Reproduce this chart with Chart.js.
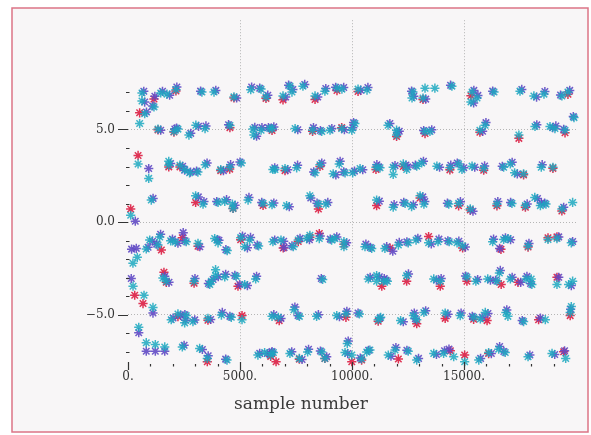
<!DOCTYPE html>
<html lang="en">
<head>
<meta charset="UTF-8">
<title>sample number</title>
<script src="https://cdn.jsdelivr.net/npm/chart.js"></script>
<style>
  body { margin: 0; background: #fff; }
</style>
</head>
<body>
<canvas id="scatterChart" width="591" height="435"></canvas>
<script>
// x ticks shown on the axis, y ticks shown on the axis
const xTickLabels = [0, 5000, 10000, 15000];
const yTickLabels = [5, 0, -5];

// three equalizer outputs, [sample, value]
const cyanPts = [
  // +7
  [625,6.97],[625,6.54],[1160,6.22],[1460,6.97],[1740,6.91],[2140,7.15],[3300,7.02],[3840,7.02],[4730,6.76],
  [5480,7.15],[5940,7.18],[6160,6.76],[6920,6.81],[7320,7.02],[7230,7.34],[7810,7.34],[8350,6.81],[8790,7.07],
  [9330,7.23],[9550,7.18],[10270,7.18],[10670,7.13],[12720,7.02],[12680,6.70],[13170,6.70],[13260,7.23],
  [13700,7.23],[14460,7.34],[15360,7.02],[15310,6.49],[15580,6.70],[16340,7.02],[17500,7.07],[18120,6.81],
  [18570,6.91],[19370,6.81],[19640,7.02],
  // +5
  [520,5.32],[745,5.85],[1340,5.02],[2050,4.89],[2230,5.02],[2720,4.70],[3030,5.23],[3440,5.05],[4550,5.21],
  [5580,5.02],[5620,4.70],[5940,4.96],[6330,5.05],[6430,5.05],[7460,5.05],[8240,4.96],[8650,4.89],[9020,4.96],
  [9540,5.05],[9990,4.96],[10130,5.32],[11610,5.23],[11990,4.96],[11990,4.70],[13260,4.89],[13480,4.89],
  [15710,4.96],[15940,5.23],[17450,4.70],[18170,5.16],[18840,5.16],[19060,5.05],[19510,4.96],[19910,5.64],
  // +3
  [450,3.14],[925,2.36],[1820,3.28],[1820,3.07],[2320,3.07],[2530,2.84],[2750,2.66],[3120,2.70],[3450,3.10],
  [4140,2.84],[4540,2.96],[5060,3.19],[6470,2.84],[6560,2.84],[7010,2.89],[7530,2.93],[8350,2.66],[8570,3.10],
  [9160,2.61],[9430,3.14],[9690,2.66],[10030,2.66],[10360,2.89],[11070,2.96],[11250,2.93],[11840,2.96],
  [11840,2.57],[12290,3.14],[12440,2.84],[12890,3.02],[13110,3.19],[13790,3.02],[14370,2.93],[14760,3.14],
  [14910,2.84],[15360,3.02],[15880,2.89],[16770,2.96],[17070,3.14],[17260,2.66],[17660,2.61],[18450,2.96],
  [18970,2.96],
  // +1
  [120,0.37],[1040,1.19],[3020,1.42],[3350,0.97],[4020,1.06],[4320,1.12],[4660,0.97],[4690,0.74],[5360,1.19],
  [6030,1.01],[6430,0.94],[7080,0.89],[8120,1.42],[8500,0.97],[8840,0.97],[11100,1.19],[11840,0.80],
  [12370,1.01],[12660,0.84],[13040,1.42],[13210,0.97],[14320,0.97],[14760,1.01],[15280,0.72],[16470,0.97],
  [17140,1.01],[17740,0.89],[18160,1.33],[18410,0.89],[18660,0.97],[19370,0.71],[19850,1.06],
  // -1
  [220,-2.22],[415,-1.90],[815,-1.45],[970,-0.97],[1415,-0.80],[1340,-1.24],[1905,-1.01],[2110,-1.08],
  [2600,-1.06],[3125,-1.15],[3870,-0.89],[4020,-1.12],[4430,-1.54],[5030,-0.84],[5210,-1.33],[5430,-0.97],
  [5830,-1.29],[6470,-1.06],[6830,-0.97],[7380,-1.33],[7600,-0.97],[7980,-0.89],[8120,-0.71],[8540,-0.89],
  [9090,-0.97],[9240,-0.89],[9640,-1.06],[9640,-1.33],[10580,-1.33],[10880,-1.42],[11470,-1.42],[12070,-1.24],
  [12510,-1.12],[12860,-0.97],[13420,-1.12],[13840,-1.06],[14340,-1.06],[14690,-1.12],[14940,-1.29],
  [16280,-1.06],[16770,-0.94],[16960,-0.89],[17860,-1.29],[18750,-0.94],[19150,-0.89],[19790,-1.12],
  // -3
  [225,-3.46],[715,-3.95],[1115,-4.61],[1560,-3.02],[1710,-3.19],[2950,-3.19],[3650,-3.37],[3720,-3.19],
  [3910,-2.57],[3910,-2.89],[4320,-2.96],[4830,-2.93],[5210,-3.37],[5700,-3.07],[8690,-3.10],[10730,-3.07],
  [11100,-2.89],[11100,-3.19],[11400,-3.19],[11580,-3.19],[12440,-2.89],[13650,-3.07],[13940,-3.19],
  [15130,-2.96],[15530,-3.19],[16060,-3.07],[16580,-2.75],[16470,-3.19],[17070,-3.07],[17770,-3.07],
  [18000,-3.07],[18030,-3.37],[19150,-3.37],[19670,-3.37],[19850,-3.19],
  // -5
  [480,-5.68],[1930,-5.27],[2230,-4.96],[2530,-5.44],[2600,-5.05],[2900,-5.37],[3570,-5.20],[4170,-5.02],
  [4610,-5.14],[5090,-5.27],[6430,-5.09],[6710,-5.14],[7410,-4.73],[7650,-5.09],[8420,-5.09],[9320,-5.05],
  [9730,-4.96],[10330,-4.96],[11170,-5.27],[11280,-5.14],[12170,-5.32],[12740,-5.05],[12890,-5.27],
  [13210,-4.88],[14160,-4.91],[14830,-5.05],[15430,-5.14],[15730,-5.23],[15950,-4.88],[16870,-4.88],
  [16960,-5.09],[17660,-5.37],[18630,-5.27],[19740,-4.88],[19790,-4.56],
  // -7
  [815,-6.51],[1220,-6.61],[1640,-6.74],[2425,-6.74],[3200,-6.82],[3540,-7.36],[4420,-7.45],[5800,-7.18],
  [6100,-7.04],[6370,-7.18],[6490,-7.04],[7230,-7.09],[7650,-7.36],[8020,-7.01],[8650,-7.01],[8790,-7.36],
  [9690,-7.04],[9790,-6.56],[9990,-7.18],[10430,-7.39],[10660,-7.01],[10800,-6.91],[11620,-7.18],
  [11920,-6.91],[12510,-6.97],[12890,-7.45],[13650,-7.09],[14090,-7.09],[14540,-7.27],[15030,-7.54],
  [15660,-7.45],[16100,-7.04],[16550,-6.86],[16840,-7.04],[17860,-7.27],[18930,-7.09],[19540,-7.36]
];

const purplePts = [
  // +7
  [705,7.06],[745,6.48],[1200,6.79],[1100,6.27],[1540,7.06],[1860,6.85],[2180,7.29],[3240,7.07],[3920,7.11],
  [4850,6.70],[5520,7.29],[5880,7.23],[6240,6.85],[7040,6.75],[7360,7.16],[7170,7.39],[7890,7.43],[8470,6.75],
  [8830,7.21],[9270,7.28],[9630,7.27],[10390,7.12],[10710,7.27],[12660,7.07],[12760,6.79],[13290,6.64],
  [14400,7.39],[15440,7.11],[15430,6.43],[15620,6.84],[16280,7.07],[17580,7.16],[18240,6.75],[18610,7.05],
  [19310,6.86],[19720,7.11],
  // +5
  [825,5.94],[1460,4.96],[2090,5.03],[2170,5.07],[2800,4.79],[3150,5.17],[3480,5.19],[4490,5.26],[5660,5.11],
  [5740,4.64],[5980,5.10],[6270,5.10],[6510,5.14],[7580,4.99],[8280,5.10],[8590,4.94],[9100,5.05],[9660,4.99],
  [10030,5.10],[10070,5.37],[11690,5.32],[12110,4.90],[12030,4.84],[13200,4.94],[13560,4.98],[15830,4.90],
  [15980,5.37],[18250,5.25],[18960,5.10],[19100,5.19],[19450,5.01],[19880,5.70],
  // +3
  [925,2.89],[1900,3.16],[2440,3.01],[2530,2.80],[2790,2.70],[3060,2.75],[3530,3.19],[4260,2.78],[4580,3.10],
  [5000,3.24],[6550,2.93],[7130,2.83],[7570,3.07],[8290,2.71],[8650,3.19],[9280,2.55],[9470,3.28],[9630,2.71],
  [10110,2.75],[10480,2.83],[11110,3.10],[11190,2.98],[11920,3.05],[12410,3.08],[12480,2.98],[12830,3.07],
  [13190,3.28],[13910,2.96],[14410,3.07],[14700,3.19],[14990,2.93],[15480,2.96],[15920,3.03],[16710,3.01],
  [17150,3.23],[17380,2.60],[18490,3.10],
  // +1
  [325,0.05],[1120,1.28],[3140,1.36],[3390,1.11],[3960,1.11],[4400,1.21],[4780,0.91],[5400,1.33],[5970,1.06],
  [6510,1.03],[7200,0.83],[8160,1.30],[8440,1.02],[8920,1.06],[11220,1.13],[11880,0.94],[12310,1.06],
  [12740,0.93],[13160,1.36],[13250,1.11],[14260,1.02],[14840,1.10],[15400,0.59],[16510,1.11],[17080,1.06],
  [17820,0.98],[18280,1.27],[18450,1.03],[18600,1.02],[19450,0.80],
  // -1
  [160,-1.46],[370,-1.42],[895,-1.36],[1090,-1.03],[1455,-0.66],[1280,-1.19],[1985,-0.92],[2230,-1.14],
  [2465,-0.57],[2540,-1.01],[3205,-1.33],[3990,-0.95],[4060,-0.98],[4370,-1.49],[5110,-0.75],[5330,-1.39],
  [5470,-0.83],[5770,-1.24],[6550,-0.97],[6950,-1.03],[6970,-1.37],[7320,-1.28],[7680,-0.88],[8100,-0.95],
  [8580,-0.75],[9030,-0.92],[9320,-0.80],[9760,-1.12],[10620,-1.19],[10820,-1.37],[11550,-1.33],[11820,-1.57],
  [12110,-1.10],[12450,-1.07],[12940,-0.88],[13540,-1.18],[13880,-0.92],[14280,-1.01],[14770,-1.03],
  [15060,-1.35],[16320,-0.92],[16590,-1.42],[16850,-0.85],[17080,-0.95],[17900,-1.15],[19230,-0.80],
  [19850,-1.05],
  // -3
  [145,-3.05],[1115,-4.91],[1640,-2.93],[1830,-3.25],[2990,-3.05],[3590,-3.32],[3800,-3.10],[4030,-2.95],
  [4360,-2.82],[4770,-2.88],[4990,-3.37],[5330,-3.43],[5740,-2.93],[8630,-3.05],[10810,-2.98],[11220,-2.95],
  [11440,-3.05],[11520,-3.14],[12520,-2.80],[13770,-3.13],[13980,-3.05],[15070,-2.91],[15610,-3.10],
  [16180,-3.13],[16620,-2.61],[16410,-3.14],[17150,-2.98],[17530,-3.25],[17810,-2.93],[17970,-3.32],
  [19230,-2.98],[19790,-3.43],
  // -5
  [480,-5.97],[2010,-5.18],[2350,-5.02],[2570,-5.30],[2540,-5.00],[2980,-5.28],[3690,-5.26],[4210,-4.88],
  [4550,-5.09],[6510,-5.00],[6830,-5.20],[7450,-4.59],[7590,-5.04],[8500,-5.00],[9440,-5.11],[9770,-4.82],
  [10270,-4.91],[11250,-5.18],[12290,-5.38],[12780,-4.91],[12830,-5.22],[13290,-4.79],[14280,-4.97],
  [14870,-4.91],[15370,-5.09],[15810,-5.14],[16070,-4.94],[16910,-4.74],[17600,-5.32],[18410,-5.18],
  [19760,-4.70],
  // -7
  [815,-6.97],[1220,-6.97],[1640,-6.97],[2505,-6.65],[3320,-6.88],[3580,-7.22],[4360,-7.40],[5880,-7.09],
  [6220,-7.10],[6410,-7.04],[6430,-6.99],[7310,-7.00],[7770,-7.42],[8060,-6.87],[8590,-6.96],[8870,-7.27],
  [9810,-7.10],[9830,-6.42],[10370,-7.34],[10740,-6.92],[11740,-7.24],[11960,-6.77],[12450,-6.92],
  [12970,-7.36],[13770,-7.15],[14130,-6.95],[14330,-6.86],[15740,-7.36],[16220,-7.10],[16590,-6.72],
  [16780,-6.99],[17940,-7.18],[19050,-7.15],[19490,-6.95]
];

const redPts = [
  // +7
  [1160,6.65],[2140,7.08],[4730,6.70],[6160,6.68],[6920,6.60],[8350,6.62],[9330,7.10],[10270,7.05],
  [13170,6.62],[15310,6.82],[19640,6.90],
  // +5
  [520,5.90],[1340,4.98],[2050,4.86],[4550,5.10],[6430,4.95],[8240,4.90],[9540,5.10],[11990,4.62],
  [13260,4.78],[15710,4.85],[17450,4.52],[19510,4.82],
  // +3
  [450,3.60],[1820,2.98],[2320,2.98],[4140,2.78],[4540,2.86],[7010,2.78],[8570,3.00],[11070,2.84],
  [12290,3.00],[14370,2.82],[15880,2.80],[17660,2.55],[18970,2.90],
  // +1
  [120,0.71],[3020,1.06],[4690,0.74],[6030,0.90],[8500,0.71],[11100,0.89],[13040,1.30],[14760,0.88],
  [15280,0.65],[16470,0.88],[17740,0.80],[19370,0.60],
  // -1
  [1490,-1.51],[2425,-0.85],[3125,-1.30],[5030,-0.95],[6930,-1.40],[7600,-1.05],[8120,-0.82],[8540,-0.62],
  [9640,-1.20],[11700,-1.40],[13420,-0.78],[14940,-1.40],[16650,-1.47],[17860,-1.35],[18750,-0.85],
  [19150,-0.80],
  // -3
  [300,-3.95],[670,-4.40],[1605,-2.71],[1710,-3.25],[2950,-3.30],[4910,-3.46],[11330,-3.46],[12440,-3.19],
  [13940,-3.46],[15130,-3.19],[16660,-3.37],[17410,-3.25],[19150,-2.98],
  // -5
  [2230,-5.10],[3570,-5.30],[5090,-5.05],[6750,-5.32],[9730,-5.14],[11170,-5.35],[12890,-5.49],[14160,-5.20],
  [15430,-5.25],[16030,-5.32],[18330,-5.27],[19740,-5.05],
  // -7
  [3540,-7.54],[6370,-7.25],[6610,-7.54],[7650,-7.40],[8790,-7.36],[9990,-7.54],[10430,-7.45],[12070,-7.39],
  [14390,-6.95],[15030,-7.18],[16100,-7.10],[19450,-7.00]
];

const toXY = pts => pts.map(p => ({ x: p[0], y: p[1] }));
const serif = '"DejaVu Serif", "Liberation Serif", serif';

// page frame and the small axis tick marks
const framePlugin = {
  id: 'framePlugin',
  beforeDraw(chart) {
    const ctx = chart.ctx;
    ctx.save();
    ctx.fillStyle = '#ffffff';
    ctx.fillRect(0, 0, chart.width, chart.height);
    ctx.fillStyle = '#f8f6f7';
    ctx.fillRect(12, 8, 576, 424);
    ctx.strokeStyle = '#dc7486';
    ctx.lineWidth = 1.5;
    ctx.strokeRect(12, 8, 576, 424);
    ctx.restore();
  },
  afterDraw(chart) {
    const ctx = chart.ctx;
    const xs = chart.scales.x, ys = chart.scales.y;
    const left = chart.chartArea.left, bottom = chart.chartArea.bottom;
    ctx.save();
    ctx.strokeStyle = '#333';
    ctx.lineWidth = 1.2;
    ctx.beginPath();
    xs.ticks.forEach(t => {
      if (t.value % 1000 !== 0 || t.value > 19000) return;
      const x = Math.round(xs.getPixelForValue(t.value)) + 0.5;
      if (t.value % 5000 === 0) { ctx.moveTo(x, bottom - 4); ctx.lineTo(x, bottom + 4); }
      else { ctx.moveTo(x, bottom - 2); ctx.lineTo(x, bottom + 0.5); }
    });
    ys.ticks.forEach(t => {
      if (!Number.isInteger(t.value) || t.value > 7) return;
      const y = Math.round(ys.getPixelForValue(t.value)) + 0.5;
      if (t.value % 5 === 0) { ctx.moveTo(left - 10, y); ctx.lineTo(left, y); }
      else { ctx.moveTo(left - 2, y); ctx.lineTo(left + 1.5, y); }
    });
    ctx.stroke();
    ctx.restore();
  }
};

const starSet = (pts, color) => ({
  data: toXY(pts),
  pointStyle: 'star',
  pointRadius: 4.6,
  pointBorderWidth: 1.5,
  borderColor: color,
  backgroundColor: color,
  showLine: false
});

new Chart(document.getElementById('scatterChart').getContext('2d'), {
  type: 'scatter',
  data: {
    datasets: [
      starSet(cyanPts, 'rgba(28,168,192,0.85)'),
      starSet(purplePts, 'rgba(96,74,196,0.9)'),
      starSet(redPts, 'rgba(220,30,66,0.9)')
    ]
  },
  options: {
    responsive: false,
    animation: false,
    clip: false,
    layout: { padding: { left: 26, right: 15, top: 15, bottom: 0 } },
    plugins: {
      legend: { display: false },
      tooltip: { enabled: false },
      title: {
        display: true,
        position: 'bottom',
        text: 'sample number',
        color: '#3a3a3a',
        font: { family: serif, size: 17, weight: 'normal' },
        padding: { top: 0, bottom: 20 }
      }
    },
    scales: {
      x: {
        type: 'linear',
        min: 0,
        max: 20000,
        afterFit: s => { s.height = 28.6; },
        border: { display: false, dash: [1, 2] },
        grid: {
          drawTicks: false,
          color: c => (c.tick && c.tick.value % 5000 === 0 && c.tick.value > 0 && c.tick.value < 20000) ? '#b5b5b5' : 'transparent'
        },
        ticks: {
          stepSize: 1000,
          maxTicksLimit: 100,
          autoSkip: false,
          maxRotation: 0,
          padding: 4,
          color: '#333',
          font: { family: serif, size: 12 },
          callback: v => xTickLabels.includes(v) ? v + '.' : ''
        }
      },
      y: {
        min: -7.77,
        max: 10.9,
        afterFit: s => { s.width = 102; },
        border: { display: false, dash: [1, 2] },
        grid: {
          drawTicks: false,
          color: c => (c.tick && yTickLabels.includes(c.tick.value)) ? '#b5b5b5' : 'transparent'
        },
        ticks: {
          stepSize: 1,
          maxTicksLimit: 100,
          autoSkip: false,
          padding: 13,
          color: '#333',
          font: { family: serif, size: 12 },
          callback: v => yTickLabels.includes(v) ? (v < 0 ? '\u2212' + Math.abs(v).toFixed(1) : v.toFixed(1)) : ''
        }
      }
    }
  },
  plugins: [framePlugin]
});
</script>
</body>
</html>
